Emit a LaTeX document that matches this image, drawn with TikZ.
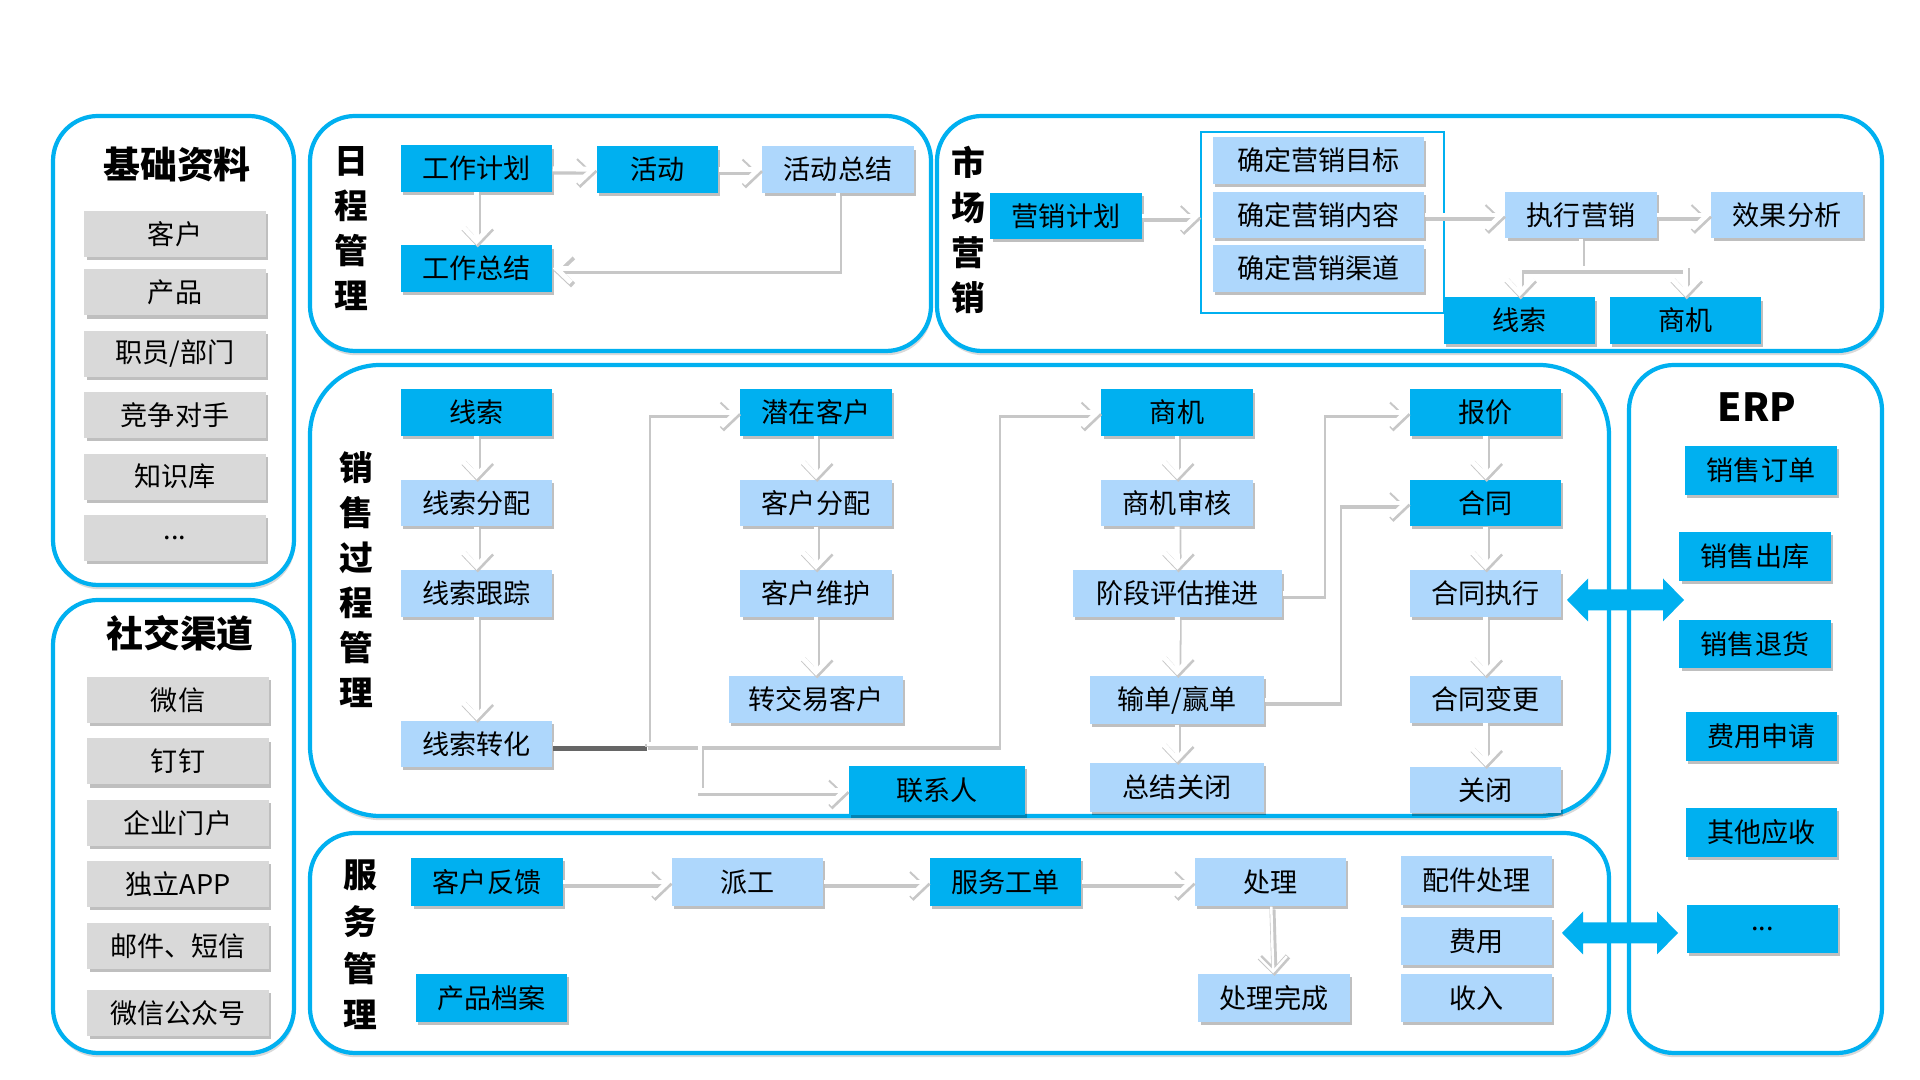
\documentclass[tikz,border=0pt]{standalone}
\usepackage{fontspec}
\setmainfont{Noto Sans CJK SC}
\usetikzlibrary{positioning,arrows.meta,shadows}
\definecolor{cblue}{RGB}{0,176,240}
\definecolor{clight}{RGB}{174,215,252}
\definecolor{cgray}{RGB}{217,217,217}

\begin{document}
\begin{tikzpicture}[x=0.01cm, y=-0.01cm,
    panel/.style={draw=cblue, line width=1.2pt, fill=white, rounded corners=0.45cm,
        drop shadow={shadow xshift=0.3pt, shadow yshift=-1.2pt, fill=black, opacity=0.15}},
    box/.style={minimum width=1.51cm, minimum height=0.46cm, inner sep=0pt,
        font=\fontsize{7.7}{9}\selectfont,
        drop shadow={shadow xshift=0.6pt, shadow yshift=-0.9pt, fill=black, opacity=0.25}},
    dk/.style={box, fill=cblue},
    lt/.style={box, fill=clight},
    gy/.style={box, fill=cgray, minimum width=1.81cm},
    title/.style={font=\bfseries\fontsize{10.5}{12}\selectfont},
    vtitle/.style={font=\bfseries\fontsize{9.6}{12.8}\selectfont, align=center},
    arr/.style={white, line width=1.4pt, -{Straight Barb[length=4.2pt,width=8pt]},
        preaction={draw=black!22, line width=1.7pt, transform canvas={xshift=0.35pt,yshift=-0.75pt}}},
    ln/.style={arr, -},
    darkln/.style={white, line width=1.4pt,
        preaction={draw=black!60, line width=2pt, transform canvas={yshift=-1.1pt}}}
  ]
  \useasboundingbox (0,0) rectangle (1920,1080);

  \draw[panel] (53,116) rectangle (294,585);
  \draw[panel] (53,600) rectangle (294,1053);
  \draw[panel] (310,116) rectangle (931,351);
  \draw[panel] (937,116) rectangle (1882,351);
  \draw[panel, rounded corners=0.7cm] (310,365) rectangle (1609,816);
  \draw[panel] (1629,365) rectangle (1882,1053);
  \draw[panel] (310,833) rectangle (1609,1053);

  % basic data
  \node[title] (base) at (177,165) {基础资料};
  \node[gy] (bcust) at (175,234) {客户};
  \node[gy, below=0.11cm of bcust] (bprod)  {产品};
  \node[gy, below=0.14cm of bprod]  (bstaff) {职员/部门};
  \node[gy, below=0.14cm of bstaff] (bcomp)  {竞争对手};
  \node[gy, below=0.14cm of bcomp]  (bknow)  {知识库};
  \node[gy, below=0.14cm of bknow]  (bdots)  {...};

  % social channels
  \node[title] (social) at (180,633) {社交渠道};
  \node[gy] (wx) at (178,700) {微信};
  \node[gy, below=0.14cm of wx]   (dd)   {钉钉};
  \node[gy, below=0.14cm of dd]   (web)  {企业门户};
  \node[gy, below=0.14cm of web]  (app)  {独立APP};
  \node[gy, below=0.14cm of app]  (mail) {邮件、短信};
  \node[gy, below=0.2cm of mail]  (gzh)  {微信公众号};

  % schedule
  \node[vtitle] (sched) at (351,229) {日\\程\\管\\理};
  \node[dk] (plan)    at (476.5,168.5) {工作计划};
  \node[dk, minimum width=1.21cm] (act) at (657.5,169.5) {活动};
  \node[lt] (actsum)  at (838,169.5) {活动总结};
  \node[dk] (worksum) at (476.5,268.5) {工作总结};
  \draw[arr] (plan) -- (act);
  \draw[arr] (act) -- (actsum);
  \draw[arr] (plan) -- (worksum);
  \draw[arr] (actsum) |- (worksum);

  % marketing
  \node[vtitle] (mkt) at (968,230) {市\\场\\营\\销};
  \node[dk] (mplan) at (1066,216) {营销计划};
  \node[draw=cblue, line width=0.5pt, minimum width=2.43cm, minimum height=1.81cm,
        inner sep=0pt] (mframe) at (1322.5,222.5) {};
  \node[lt, minimum width=2.11cm] (mgoal)    at (1318.5,160.5) {确定营销目标};
  \node[lt, minimum width=2.11cm] (mcontent) at (1318.5,215)   {确定营销内容};
  \node[lt, minimum width=2.11cm] (mchannel) at (1318.5,268.5) {确定营销渠道};
  \node[lt] (mexec)   at (1581,215) {执行营销};
  \node[lt] (meffect) at (1787,215) {效果分析};
  \node[dk] (mlead) at (1519.5,320.5) {线索};
  \node[dk] (mopp)  at (1685.5,320.5) {商机};
  \coordinate (msplit) at (1581,268);
  \draw[arr] (mplan.east) -- (mframe.west |- mplan.east);
  \draw[arr] (mcontent) -- (mexec);
  \draw[arr] (mexec) -- (meffect);
  \draw[ln] (mexec) -- (msplit);
  \draw[arr] (msplit) -| (mlead);
  \draw[arr] (msplit) -| (mopp);

  % sales process
  \node[vtitle] (sales) at (356,580) {销\\售\\过\\程\\管\\理};
  \node[dk] (lead)       at (476.5,412.5) {线索};
  \node[lt] (leadassign) at (476.5,503)   {线索分配};
  \node[lt] (leadtrack)  at (476.5,593.5) {线索跟踪};
  \node[lt] (leadconv)   at (476.5,744)   {线索转化};
  \node[dk] (pcust)   at (816,412.5) {潜在客户};
  \node[lt] (cassign) at (816,503)   {客户分配};
  \node[lt] (cmaint)  at (816,593.5) {客户维护};
  \node[lt, minimum width=1.74cm] (ccust) at (816,699.5) {转交易客户};
  \node[dk, minimum width=1.76cm, minimum height=0.49cm] (contact) at (937,790.5) {联系人};
  \node[dk] (opp)      at (1177,412.5) {商机};
  \node[lt] (oppaudit) at (1177,503)   {商机审核};
  \node[lt, minimum width=2.09cm] (stage)    at (1177.5,593.5) {阶段评估推进};
  \node[lt, minimum width=1.74cm, minimum height=0.48cm] (winloss)  at (1177,700)   {输单/赢单};
  \node[lt, minimum width=1.74cm, minimum height=0.49cm] (sumclose) at (1177,787.5) {总结关闭};
  \node[dk] (quote)    at (1485.5,412.5) {报价};
  \node[dk] (contract) at (1485.5,503)   {合同};
  \node[lt] (cexec)    at (1485.5,593.5) {合同执行};
  \node[lt] (cchange)  at (1485.5,699.5) {合同变更};
  \node[lt] (close)    at (1485.5,790)   {关闭};
  \coordinate (sj) at (647,744);
  \coordinate (sb) at (700,744);
  \coordinate (sk) at (997,744);
  \draw[arr] (lead) -- (leadassign);
  \draw[arr] (leadassign) -- (leadtrack);
  \draw[arr] (leadtrack) -- (leadconv);
  \draw[arr] (pcust) -- (cassign);
  \draw[arr] (cassign) -- (cmaint);
  \draw[arr] (cmaint) -- (ccust);
  \draw[arr] (opp) -- (oppaudit);
  \draw[arr] (oppaudit) -- (stage);
  \draw[arr] (stage) -- (winloss);
  \draw[arr] (winloss) -- (sumclose);
  \draw[arr] (quote) -- (contract);
  \draw[arr] (contract) -- (cexec);
  \draw[arr] (cexec) -- (cchange);
  \draw[arr] (cchange) -- (close);
  \draw[darkln] (leadconv) -- (sj);
  \draw[arr] (sj) |- (pcust);
  \draw[arr] (sj) -- (sk) |- (opp);
  \draw[arr] (sb) |- (contact);
  \draw[arr] (stage.east) -- ++(39,0) |- (quote);
  \draw[arr] (winloss.east) -- ++(73,0) |- (contract);

  % erp
  \node[title, font=\bfseries\fontsize{11}{12}\selectfont] (erp) at (1757,407) {ERP};
  \node[dk, minimum width=1.52cm, minimum height=0.49cm] (sorder) at (1761,470.5) {销售订单};
  \node[dk, minimum height=0.49cm] (sout)  at (1755,556.5) {销售出库};
  \node[dk, minimum height=0.48cm] (sret)  at (1755,644)   {销售退货};
  \node[dk, minimum height=0.49cm] (fee)   at (1761.5,736.5) {费用申请};
  \node[dk, minimum height=0.49cm] (recv)  at (1761.5,832.5) {其他应收};
  \node[dk, minimum height=0.48cm] (edots) at (1762.5,929)   {...};
  \foreach \xa/\xb/\yc in {1567/1684/600, 1562/1678/933}
    \fill[cblue] (\xa,\yc) -- ++(21,-21.5) -- ++(0,11) -- (\xb-21,\yc-10.5) -- ++(0,-11)
      -- (\xb,\yc) -- ++(-21,21.5) -- ++(0,-11) -- (\xa+21,\yc+10.5) -- ++(0,11) -- cycle;

  % service
  \node[vtitle, font=\bfseries\fontsize{9.6}{13.3}\selectfont] (serv) at (360,945) {服\\务\\管\\理};
  \node[dk, minimum height=0.48cm] (fb)       at (487,882)    {客户反馈};
  \node[lt, minimum height=0.48cm] (dispatch) at (747.5,882)  {派工};
  \node[dk, minimum height=0.48cm] (ticket)   at (1005.5,882) {服务工单};
  \node[lt, minimum height=0.48cm] (handle)   at (1270.5,882) {处理};
  \node[lt, minimum height=0.49cm] (parts)    at (1476.5,880.5) {配件处理};
  \node[lt, minimum height=0.48cm] (cost)     at (1476.5,941)   {费用};
  \node[lt, minimum height=0.48cm] (income)   at (1476.5,998)   {收入};
  \node[lt, minimum height=0.48cm] (done)     at (1274,998)     {处理完成};
  \node[dk, minimum height=0.48cm] (archive)  at (491.5,998)    {产品档案};
  \draw[arr] (fb) -- (dispatch);
  \draw[arr] (dispatch) -- (ticket);
  \draw[arr] (ticket) -- (handle);
  \draw[arr, line width=0.7pt] (handle) -- (done);
\end{tikzpicture}
\end{document}
